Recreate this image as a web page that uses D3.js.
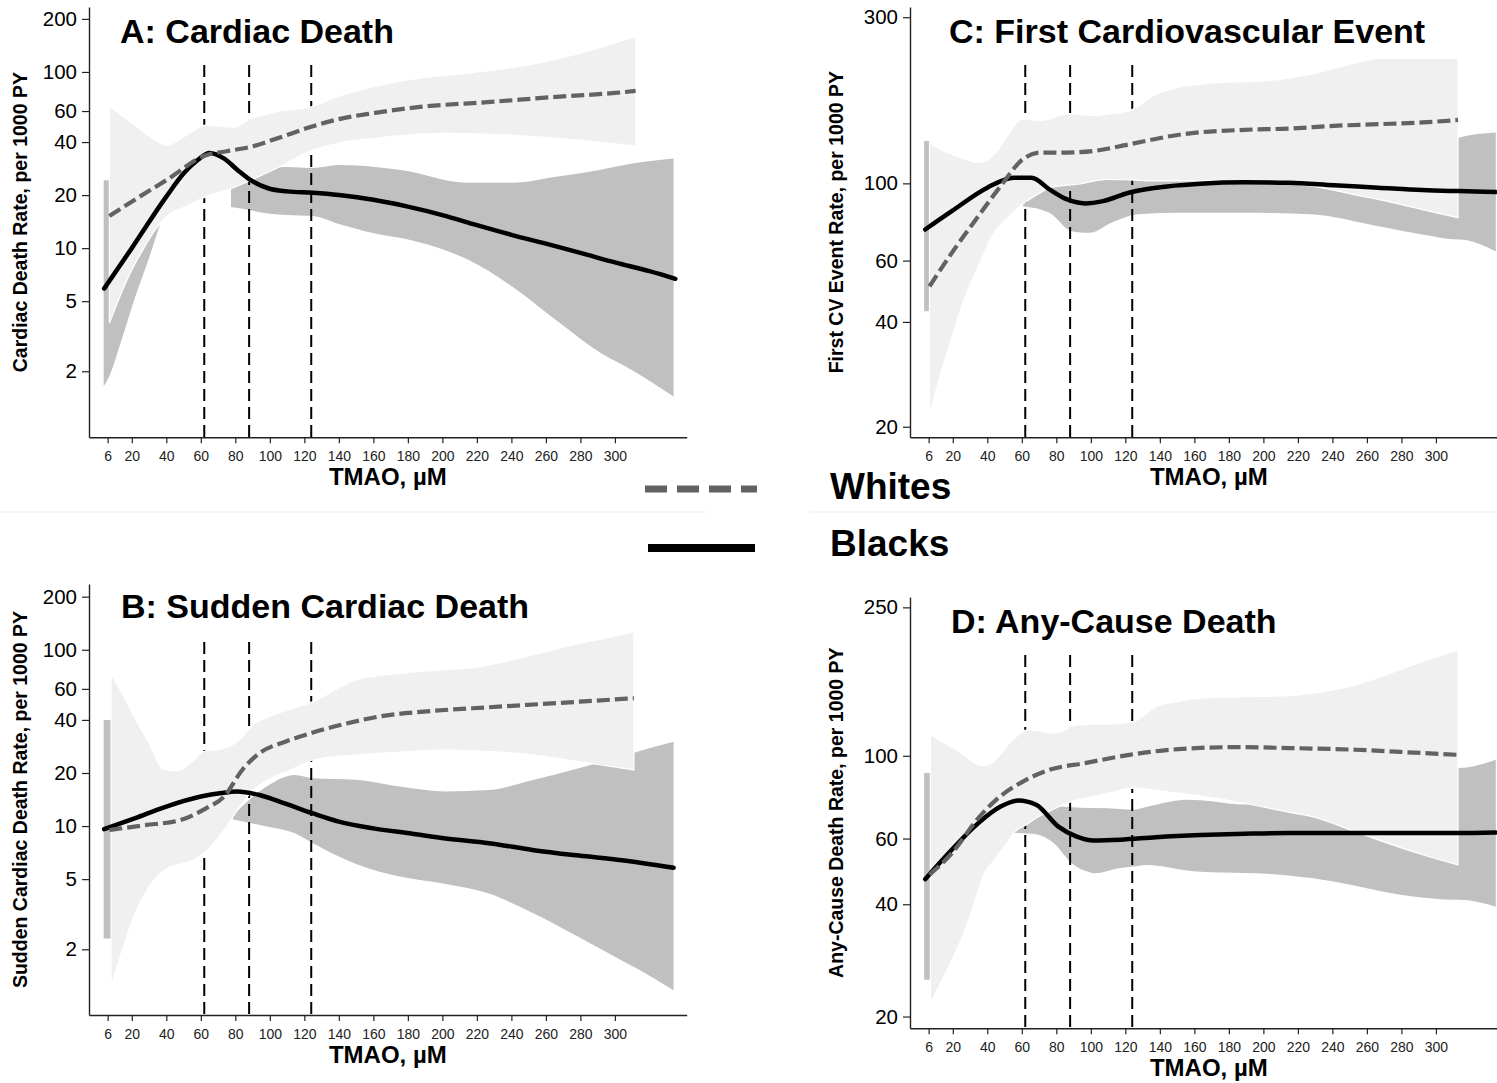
<!DOCTYPE html>
<html>
<head>
<meta charset="utf-8">
<script src="https://cdn.jsdelivr.net/npm/d3@7"></script>
<style>
  body { margin: 0; background: #fff; }
  svg { display: block; font-family: "Liberation Sans", Arial, sans-serif; }
</style>
</head>
<body>
<svg id="chart" width="1497" height="1083"></svg>
<script>
// shared axis values
const xTicks = [6, 20, 40, 60, 80, 100, 120, 140, 160, 180, 200, 220, 240, 260, 280, 300];
const cutoffs = [62, 88, 124];
const yTicksAB = [2, 5, 10, 20, 40, 60, 100, 200];
const yTicksC = [20, 40, 60, 100, 300];
const yTicksD = [20, 40, 60, 100, 250];

// A: cardiac death
const aBlackTmao = [4, 20, 40, 50, 58, 65, 73.6, 81.4, 89, 99.4, 110, 125, 140, 160, 180, 200, 220, 240, 260, 280, 300, 320, 335];
const aBlackRate = [5.9, 10.0, 19.6, 26.5, 31.5, 34.7, 32.2, 27.7, 24.3, 21.8, 21.0, 20.6, 20.0, 18.8, 17.2, 15.4, 13.5, 11.9, 10.6, 9.4, 8.3, 7.4, 6.7];
const aWhiteTmao = [7, 22, 40, 63, 75, 89, 104, 125, 140, 161, 187, 228, 266, 300, 312];
const aWhiteRate = [15.2, 18.9, 24.3, 33.7, 35.5, 37.6, 41.9, 49.2, 54, 58.6, 63.3, 67.6, 72.2, 76, 78];
const aWBandTmao = [7, 12, 17, 22, 27, 33, 40, 53, 63, 79, 89, 104, 125, 140, 161, 189, 202, 228, 241, 279, 312];
const aWBandLo = [3.75, 5.0, 6.5, 8.2, 10.0, 12.5, 15.1, 17.5, 19.6, 22, 24.3, 28.4, 36, 39.5, 42, 44.5, 44.8, 44.2, 43.7, 41, 37.9];
const aWBandHi = [63.9, 59, 54, 49.8, 45.5, 41.5, 38.4, 44.5, 49.9, 48.6, 54.4, 59.5, 63.9, 73, 82.9, 92.9, 95.7, 102, 106, 127, 159];
const aBBand1Tmao = [3.7, 6.8, 14, 22, 30, 36.5];
const aBBand1Lo = [1.64, 1.86, 3.0, 5.3, 8.8, 13.8];
const aBBand1Hi = [24.3, 24.3, 23, 22, 21, 20];
const aBBand2Tmao = [77.5, 89, 99, 110, 125, 140, 161, 182, 202, 215, 241, 266, 292, 310, 334];
const aBBand2Lo = [17.1, 16.4, 15.7, 15.4, 15.2, 13.7, 12.1, 11.1, 9.7, 8.6, 6.0, 3.9, 2.53, 2.03, 1.44];
const aBBand2Hi = [24, 27, 28.6, 28.9, 28.5, 29.6, 28.9, 27.1, 24.3, 23.5, 23.5, 25.4, 27.9, 30.2, 32.3];

// B: sudden cardiac death
const bBlackTmao = [4, 22, 40, 60, 72, 81, 94, 109, 125, 140, 160, 181, 202, 227, 253, 279, 304, 334];
const bBlackRate = [9.6, 11.1, 12.9, 14.7, 15.4, 15.7, 15.0, 13.4, 11.8, 10.6, 9.7, 9.1, 8.5, 8.0, 7.3, 6.8, 6.4, 5.8];
const bWhiteTmao = [7, 27, 48, 63, 73.5, 84, 94, 109, 125, 145, 166, 191, 227, 266, 311];
const bWhiteRate = [9.5, 10.1, 10.8, 12.6, 14.7, 20.8, 25.9, 30.1, 33.9, 38.3, 42.2, 44.7, 47.2, 49.8, 53.1];
const bWBandTmao = [8, 17, 22, 30, 37.5, 43, 48, 55.5, 61, 73.5, 84, 89, 99, 112, 125, 150, 176, 202, 215, 253, 284, 292, 311];
const bWBandLo = [1.22, 2.35, 3.2, 4.52, 5.5, 5.9, 6.1, 6.4, 6.9, 9.5, 13.5, 15.5, 18.3, 20.8, 23.7, 25.3, 26.3, 27.0, 26.8, 25.3, 22.8, 22.2, 20.8];
const bWBandHi = [73.6, 50.5, 40.5, 29.5, 21.3, 20.6, 20.8, 23.5, 26.4, 27.6, 32, 36.6, 41.5, 46, 50.8, 67.6, 73.6, 77, 78.7, 93.7, 111, 115, 127];
const bBBand1Tmao = [3.7, 8.5];
const bBBand1Lo = [2.3, 2.3];
const bBBand1Hi = [40, 40];
const bBBand2Tmao = [78.6, 99, 114.5, 125, 150, 176, 202, 227, 253, 279, 304, 313, 334];
const bBBand2Lo = [10.9, 9.9, 9.1, 8.0, 6.1, 5.15, 4.7, 4.14, 3.19, 2.35, 1.73, 1.55, 1.17];
const bBBand2Hi = [11.5, 17, 19.5, 18.7, 18.3, 16.7, 15.7, 16.0, 18.3, 21.3, 24.8, 26.4, 30.1];

// C: first cardiovascular event
const cBlackTmao = [4, 19.4, 40, 55.4, 65.7, 76, 86.3, 96.6, 107, 122, 138, 163.5, 189, 215, 241, 266.5, 292, 313, 334.7];
const cBlackRate = [73.7, 83.2, 97.2, 103.8, 103.8, 96.1, 89.9, 87.6, 88.9, 94.0, 97.2, 99.8, 100.7, 100.4, 98.7, 97.2, 95.7, 95.0, 94.4];
const cWhiteTmao = [6.5, 19.4, 34.8, 47.7, 60.6, 70.9, 86.3, 101.8, 122.3, 153.2, 189.3, 215, 240.7, 266.5, 292.2, 312.8];
const cWhiteRate = [50.6, 63.1, 80.5, 98.2, 117.3, 122.6, 122.6, 123.9, 129.5, 138.4, 142.5, 143.7, 146.3, 147.9, 149.6, 152.1];
const cWBandTmao = [6.5, 14.2, 19.4, 24.5, 34.8, 45.1, 47.7, 60.6, 70.9, 76, 86.3, 91.5, 101.8, 109.5, 122.3, 137.8, 163.5, 189.3, 202, 227.8, 258.8, 266.5, 292.2, 312.8];
const cWBandLo = [21.6, 29.8, 36, 43.4, 57.8, 73.6, 76, 87.2, 94, 97.2, 98.8, 99.3, 101.5, 102.7, 102.3, 101.6, 101.6, 101.6, 101, 98.2, 91.5, 89.9, 84.1, 79.6];
const cWBandHi = [131, 124, 121.3, 118.5, 114.7, 123, 128.1, 152.8, 151.3, 153, 158.2, 158, 156.4, 158, 161.6, 180.4, 192.7, 196, 197.1, 206, 225, 228.6, 228.6, 228.6];
const cBBand1Tmao = [3.4, 6.6];
const cBBand1Lo = [42.9, 42.9];
const cBBand1Hi = [132.4, 132.4];
const cBBand2Tmao = [60.6, 76, 88.9, 99.2, 112, 127.5, 150.7, 189.3, 227.8, 266.5, 292.2, 312.8, 313.5, 334.7];
const cBBand2Lo = [86, 82.3, 72.9, 72.1, 77.1, 81.5, 82.3, 82.3, 81.5, 75.3, 71.3, 69.0, 69.0, 63.8];
const cBBand2Hi = [90, 105, 108, 110, 112, 112, 115, 118, 120, 125, 130, 134, 135.4, 140];

// D: any-cause death
const dBlackTmao = [4, 19.4, 34.8, 47.7, 58, 68.3, 81.2, 91.5, 101.8, 117.2, 137.8, 163.5, 189.3, 215, 266.5, 312.8, 334.7];
const dBlackRate = [46.7, 56.0, 66.0, 73.1, 75.9, 73.9, 64.6, 60.8, 59.3, 59.6, 60.5, 61.3, 61.8, 62.1, 62.1, 62.1, 62.3];
const dWhiteTmao = [6.5, 19.4, 34.8, 45.1, 60.6, 76, 96.6, 122.3, 153.2, 184.1, 215, 253.6, 292.2, 312.8];
const dWhiteRate = [48, 54.8, 68.1, 76.2, 85.3, 91.7, 95.6, 100.6, 104.4, 105.5, 104.9, 103.8, 101.7, 100.6];
const dWBandTmao = [7, 16.8, 22, 27.1, 34.8, 37.4, 42.5, 47.7, 52.8, 55.4, 63.1, 68.3, 78.6, 86.3, 91.5, 101.8, 112, 124.9, 137.8, 150.6, 163.5, 189.3, 215, 227.8, 253.6, 266.5, 292.2, 312.8];
const dWBandLo = [21.7, 26.7, 30, 34.1, 43.5, 47.4, 51.5, 55.4, 59.5, 62.1, 65.5, 68.1, 72, 74.6, 76, 77.8, 79.8, 81.9, 80.8, 79.4, 78, 74.6, 70.5, 68.8, 62.5, 59.5, 54.3, 51.0];
const dWBandHi = [113.8, 107, 103.8, 100, 94.6, 94.3, 95.6, 101, 108.1, 111, 117.4, 117, 115, 118, 121, 121.5, 121.8, 123.6, 135.5, 140, 142.8, 144, 144.9, 147, 155, 162, 179, 192.3];
const dBBand1Tmao = [3.4, 7.2];
const dBBand1Lo = [25.1, 25.1];
const dBBand1Hi = [89.9, 89.9];
const dBBand2Tmao = [54.9, 65.7, 76, 78.6, 88.9, 99.2, 101.8, 117.2, 124.9, 132.7, 155.8, 163.5, 189.3, 202, 227.8, 240.7, 279.4, 312.8, 313.5, 334.7];
const dBBand2Lo = [62.1, 61.8, 59.5, 58.3, 51.5, 48.7, 48.4, 50.0, 50.5, 51.0, 49.3, 48.9, 48.5, 48.3, 47, 46.0, 42.4, 41.1, 41.1, 39.4];
const dBBand2Hi = [62.5, 70, 73.1, 73.2, 72.8, 72.4, 72.4, 72, 71.7, 73, 76.2, 76, 74, 74, 72, 75, 85, 92.7, 92.7, 97.6];

const series = (t, v) => t.map((d, i) => ({ t: d, v: v[i] }));
const band = (t, lo, hi) => t.map((d, i) => ({ t: d, lo: lo[i], hi: hi[i] }));

const panels = [
  { title: "A: Cardiac Death", ylab: "Cardiac Death Rate, per 1000 PY",
    left: 89, right: 686.7, top: 7, bottom: 437.3, yDomain: [0.844, 233.7], yTicks: yTicksAB,
    titleX: 120, titleY: 43, ylabX: 27,
    black: series(aBlackTmao, aBlackRate), white: series(aWhiteTmao, aWhiteRate),
    wBand: band(aWBandTmao, aWBandLo, aWBandHi),
    bBands: [band(aBBand1Tmao, aBBand1Lo, aBBand1Hi), band(aBBand2Tmao, aBBand2Lo, aBBand2Hi)] },
  { title: "B: Sudden Cardiac Death", ylab: "Sudden Cardiac Death Rate, per 1000 PY",
    left: 89, right: 686.7, top: 584, bottom: 1015, yDomain: [0.848, 236], yTicks: yTicksAB,
    titleX: 121, titleY: 618, ylabX: 27,
    black: series(bBlackTmao, bBlackRate), white: series(bWhiteTmao, bWhiteRate),
    wBand: band(bWBandTmao, bWBandLo, bWBandHi),
    bBands: [band(bBBand1Tmao, bBBand1Lo, bBBand1Hi), band(bBBand2Tmao, bBBand2Lo, bBBand2Hi)] },
  { title: "C: First Cardiovascular Event", ylab: "First CV Event Rate, per 1000 PY",
    left: 910, right: 1507.7, top: 7, bottom: 437.3, yDomain: [18.65, 321], yTicks: yTicksC,
    titleX: 949, titleY: 43, ylabX: 843,
    black: series(cBlackTmao, cBlackRate), white: series(cWhiteTmao, cWhiteRate),
    wBand: band(cWBandTmao, cWBandLo, cWBandHi),
    bBands: [band(cBBand1Tmao, cBBand1Lo, cBBand1Hi), band(cBBand2Tmao, cBBand2Lo, cBBand2Hi)] },
  { title: "D: Any-Cause Death", ylab: "Any-Cause Death Rate, per 1000 PY",
    left: 910, right: 1507.7, top: 597, bottom: 1028.3, yDomain: [18.6, 266.5], yTicks: yTicksD,
    titleX: 951, titleY: 633, ylabX: 843,
    black: series(dBlackTmao, dBlackRate), white: series(dWhiteTmao, dWhiteRate),
    wBand: band(dWBandTmao, dWBandLo, dWBandHi),
    bBands: [band(dBBand1Tmao, dBBand1Lo, dBBand1Hi), band(dBBand2Tmao, dBBand2Lo, dBBand2Hi)] }
];

const svg = d3.select("#chart");
svg.append("rect").attr("width", 1497).attr("height", 1083).attr("fill", "#fff");

// faint separators between the rows
svg.append("line").attr("x1", 0).attr("x2", 707).attr("y1", 512).attr("y2", 512)
  .attr("stroke", "#ededed").attr("stroke-width", 1);
svg.append("line").attr("x1", 810).attr("x2", 1497).attr("y1", 512).attr("y2", 512)
  .attr("stroke", "#ededed").attr("stroke-width", 1);

function drawPanel(p) {
  const x = d3.scaleLinear().domain([-4.8, 341.6]).range([p.left, p.right]);
  const y = d3.scaleLog().domain(p.yDomain).range([p.bottom, p.top]);
  const g = svg.append("g");

  const area = d3.area()
    .x(d => x(d.t)).y0(d => y(d.lo)).y1(d => y(d.hi))
    .curve(d3.curveMonotoneX);
  const line = d3.line()
    .x(d => x(d.t)).y(d => y(d.v))
    .curve(d3.curveMonotoneX);

  p.bBands.forEach(b => {
    g.append("path").datum(b).attr("fill", "#c0c0c0").attr("d", area);
  });

  g.selectAll(".cut").data(cutoffs).enter().append("line")
    .attr("x1", d => x(d)).attr("x2", d => x(d))
    .attr("y1", p.top + 58).attr("y2", p.bottom)
    .attr("stroke", "#000").attr("stroke-width", 2)
    .attr("stroke-dasharray", "12,6");

  g.append("path").datum(p.wBand)
    .attr("fill", "#f0f0f0").attr("stroke", "#fff").attr("stroke-width", 1.2)
    .attr("d", area);

  g.append("path").datum(p.black)
    .attr("fill", "none").attr("stroke", "#000").attr("stroke-width", 4.5)
    .attr("stroke-linejoin", "round").attr("stroke-linecap", "round")
    .attr("d", line);

  g.append("path").datum(p.white)
    .attr("fill", "none").attr("stroke", "#626262").attr("stroke-width", 4.2)
    .attr("stroke-dasharray", "13,5")
    .attr("d", line);

  const xAxis = g.append("g")
    .attr("transform", "translate(0," + p.bottom + ")")
    .call(d3.axisBottom(x).tickValues(xTicks).tickSize(6).tickSizeOuter(0));
  xAxis.select(".domain").attr("stroke", "#222").attr("stroke-width", 1.4);
  xAxis.selectAll(".tick line").attr("stroke", "#222").attr("stroke-width", 1.2);
  xAxis.selectAll(".tick text")
    .attr("y", 24).attr("dy", null)
    .attr("font-size", 14).attr("fill", "#222")
    .attr("font-family", "'Liberation Sans', Arial, sans-serif");

  const yAxis = g.append("g")
    .attr("transform", "translate(" + p.left + ",0)")
    .call(d3.axisLeft(y).tickValues(p.yTicks).tickFormat(d3.format("d")).tickSize(7).tickSizeOuter(0));
  yAxis.select(".domain").attr("stroke", "#222").attr("stroke-width", 1.4);
  yAxis.selectAll(".tick line").attr("stroke", "#222").attr("stroke-width", 1.2);
  yAxis.selectAll(".tick text")
    .attr("x", -12)
    .attr("font-size", 20.5).attr("fill", "#000")
    .attr("font-family", "'Liberation Sans', Arial, sans-serif");

  g.append("text")
    .attr("x", (p.left + p.right) / 2)
    .attr("y", p.bottom + 48)
    .attr("text-anchor", "middle")
    .attr("font-size", 24).attr("font-weight", "bold")
    .text("TMAO, \u00b5M");

  g.append("text")
    .attr("transform", "translate(" + p.ylabX + "," + (p.top + p.bottom) / 2 + ") rotate(-90)")
    .attr("text-anchor", "middle")
    .attr("font-size", 19.5).attr("font-weight", "bold")
    .text(p.ylab);

  g.append("text")
    .attr("x", p.titleX).attr("y", p.titleY)
    .attr("font-size", 34).attr("font-weight", "bold")
    .text(p.title);
}

panels.forEach(drawPanel);

// legend in the middle
const legend = svg.append("g");
legend.append("line").attr("x1", 645).attr("x2", 757).attr("y1", 489).attr("y2", 489)
  .attr("stroke", "#626262").attr("stroke-width", 7).attr("stroke-dasharray", "22,10");
legend.append("line").attr("x1", 648).attr("x2", 755).attr("y1", 548).attr("y2", 548)
  .attr("stroke", "#000").attr("stroke-width", 8);
legend.append("text").attr("x", 830).attr("y", 499)
  .attr("font-size", 37).attr("font-weight", "bold").text("Whites");
legend.append("text").attr("x", 830).attr("y", 556)
  .attr("font-size", 37).attr("font-weight", "bold").text("Blacks");
</script>
</body>
</html>
